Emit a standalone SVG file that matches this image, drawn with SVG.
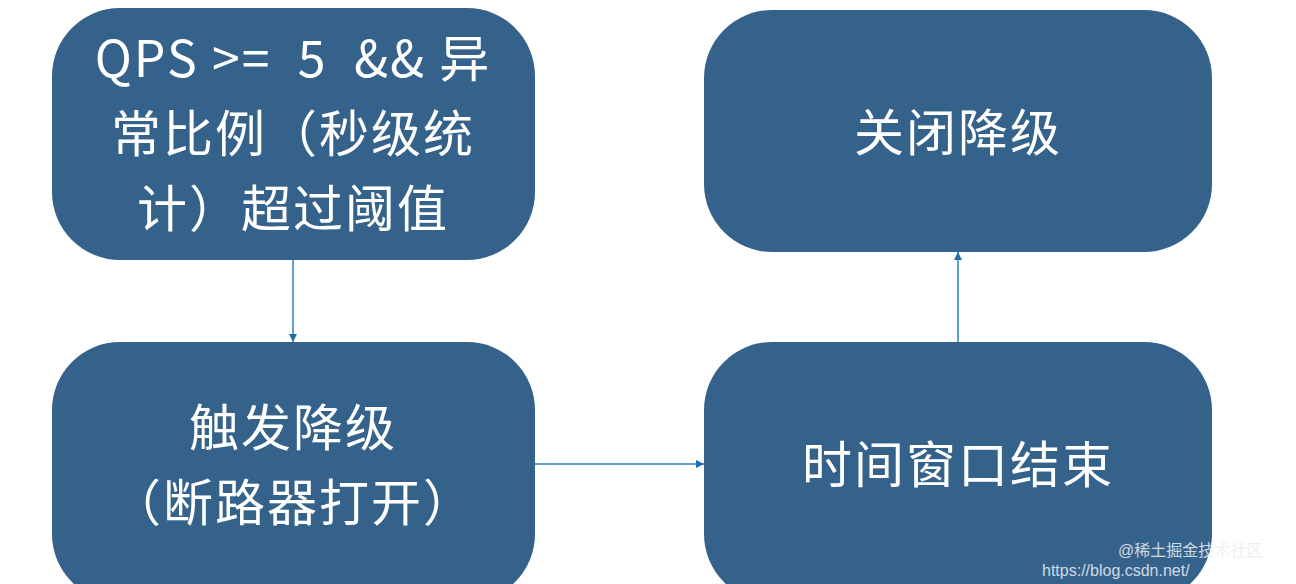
<svg xmlns="http://www.w3.org/2000/svg" width="1296" height="584" viewBox="0 0 1296 584">
<defs>
<style>
.box{fill:#35628b}
.t{fill:#fff;font-family:"Noto Sans CJK SC","Noto Sans",sans-serif;font-size:50px;text-anchor:middle;letter-spacing:2px}
.c{stroke:#2f7fb3;stroke-width:1.5;fill:none}
.wm{font-family:"Liberation Sans","Noto Sans CJK SC",sans-serif;font-size:16px;fill:#e8eef4;opacity:0.85}
</style>
<marker id="ah" viewBox="0 0 10 10" refX="10" refY="5" markerWidth="8" markerHeight="8" orient="auto" markerUnits="userSpaceOnUse"><path d="M0,0L10,5L0,10z" fill="#1f6fa8"/></marker>
</defs>
<rect width="1296" height="584" fill="#fff"/>
<g id="n1"><rect class="box" x="52" y="8" width="483" height="252" rx="68"/>
<text class="t" x="293" y="77" xml:space="preserve">QPS &gt;=  5  &amp;&amp; 异</text>
<text class="t" x="293" y="152">常比例（秒级统</text>
<text class="t" x="293" y="227">计）超过阈值</text></g>
<g id="n2"><rect class="box" x="52" y="342" width="483" height="260" rx="68"/>
<text class="t" x="293" y="446">触发降级</text>
<text class="t" x="293" y="521">（断路器打开）</text></g>
<g id="n3"><rect class="box" x="704" y="10" width="508" height="242" rx="68"/>
<text class="t" x="958" y="151">关闭降级</text></g>
<g id="n4"><rect class="box" x="704" y="342" width="508" height="260" rx="68"/>
<text class="t" x="958" y="483">时间窗口结束</text></g>
<g id="connectors">
<line class="c" x1="293" y1="260" x2="293" y2="342" marker-end="url(#ah)"/>
<line class="c" x1="535" y1="464" x2="704" y2="464" marker-end="url(#ah)"/>
<line class="c" x1="958" y1="342" x2="958" y2="252" marker-end="url(#ah)"/>
</g>
<text class="wm" x="1118" y="556">@稀土掘金技术社区</text>
<text class="wm" x="1042" y="576">https://blog.csdn.net/</text>
</svg>
